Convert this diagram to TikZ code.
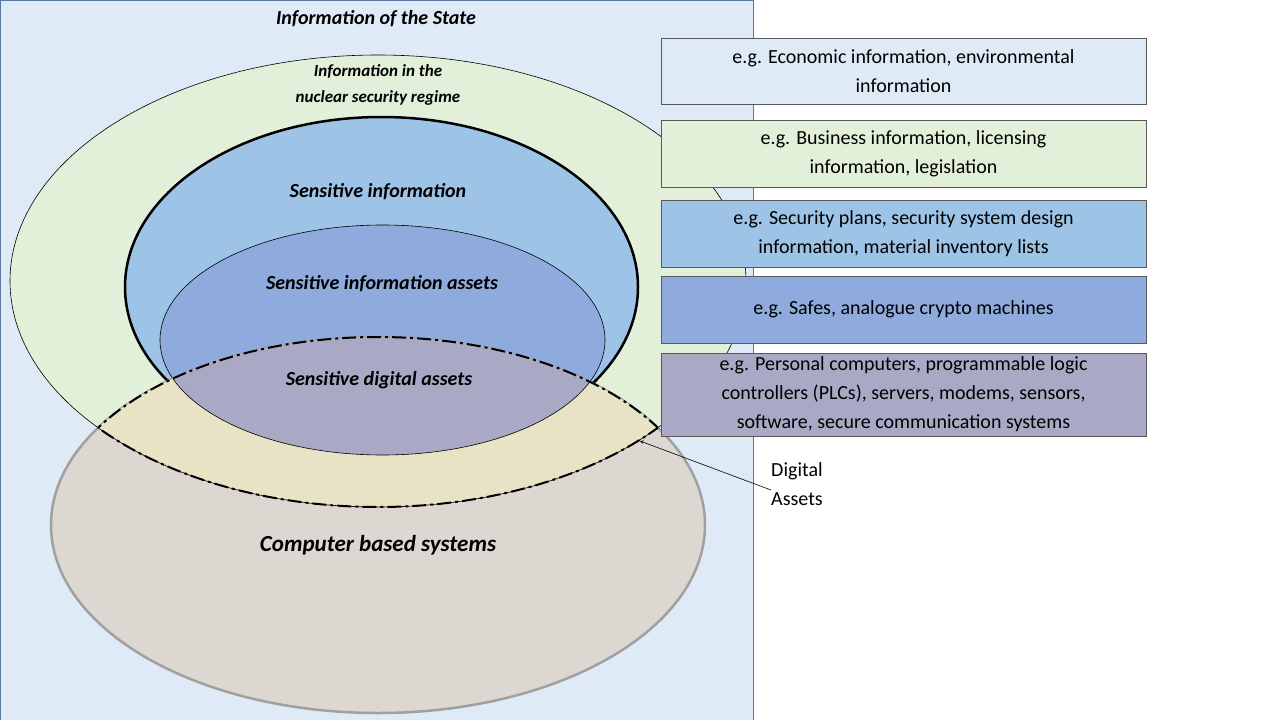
\documentclass[tikz,border=0pt]{standalone}
\usepackage{fontspec}
\setmainfont{Carlito}
\definecolor{cstate}{RGB}{222,234,246}
\definecolor{cstateb}{RGB}{90,120,160}
\definecolor{cgreen}{RGB}{226,239,217}
\definecolor{csens}{RGB}{157,195,230}
\definecolor{casset}{RGB}{143,170,220}
\definecolor{ccomp}{RGB}{221,215,209}
\definecolor{ccompb}{RGB}{160,160,160}
\definecolor{cyel}{RGB}{232,227,196}
\definecolor{cdig}{RGB}{169,169,198}
\definecolor{cbox1}{RGB}{222,235,247}
\begin{document}
\begin{tikzpicture}[x=1pt,y=-1pt,
  ex/.style={draw=gray!70!black,line width=0.8pt,minimum width=485pt,align=center,font=\fontsize{20}{29}\selectfont,inner sep=0pt},
  tt/.style={font=\fontsize{20}{25}\selectfont\bfseries\itshape,align=center},
  dd/.style={line width=2pt,dash pattern=on 14pt off 4pt on 3pt off 4pt}]
\useasboundingbox (0,0) rectangle (1280,720);
\fill[white] (0,0) rectangle (1280,720);
\filldraw[fill=cstate,draw=cstateb,line width=0.8pt] (0.5,0.5) rectangle (753,720);
\def\green{(378,281) ellipse [x radius=368,y radius=226]}
\def\comp{(378,525) ellipse [x radius=327,y radius=188]}
\def\sens{(381.5,287) ellipse [x radius=256.5,y radius=170]}
\def\asset{(382.5,340) ellipse [x radius=222.5,y radius=115]}
\filldraw[fill=cgreen,draw=black,line width=0.6pt] \green;
\filldraw[fill=csens,draw=black,line width=2.5pt] \sens;
\filldraw[fill=casset,draw=black,line width=0.6pt] \asset;
\filldraw[fill=ccomp,draw=ccompb,line width=2.5pt] \comp;
\begin{scope}
\clip \comp;
\fill[cyel] \green;
\fill[cdig] \asset;
\draw[line width=0.6pt] \asset;
\draw[line width=0.6pt] \green;
\draw[dd] \green;
\end{scope}
\begin{scope}
\clip \green;
\draw[dd] \comp;
\end{scope}
\node[tt] (st) at (376,19) {Information of the State};
\node[tt,font=\fontsize{17}{26}\selectfont\bfseries\itshape] (nsr) at (378,85) {Information in the\\nuclear security regime};
\node[tt] (si) at (378,192) {Sensitive information};
\node[tt] (sia) at (382,284) {Sensitive information assets};
\node[tt] (sda) at (379,380) {Sensitive digital assets};
\node[tt,font=\fontsize{23}{28}\selectfont\bfseries\itshape] (cbs) at (378,545) {Computer based systems};
\node[ex,fill=cbox1,minimum height=66pt] (b1) at (903.5,71) {e.g. Economic information, environmental\\information};
\node[ex,fill=cgreen,minimum height=67pt] (b2) at (903.5,153.5) {e.g. Business information, licensing\\information, legislation};
\node[ex,fill=csens,minimum height=67pt] (b3) at (903.5,233.5) {e.g. Security plans, security system design\\information, material inventory lists};
\node[ex,fill=casset,minimum height=67pt] (b4) at (903.5,309.5) {e.g. Safes, analogue crypto machines};
\node[ex,fill=cdig,minimum height=83pt] (b5) at (903.5,394.5) {e.g. Personal computers, programmable logic\\controllers (PLCs), servers, modems, sensors,\\software, secure communication systems};
\node[align=left,anchor=north west,font=\fontsize{20}{29}\selectfont,inner sep=0pt] (da) at (771,462) {Digital\\Assets};
\coordinate (tip) at (640,441);
\draw[-stealth,line width=0.6pt] (da.west |- 0,490) -- (tip);
\end{tikzpicture}
\end{document}
